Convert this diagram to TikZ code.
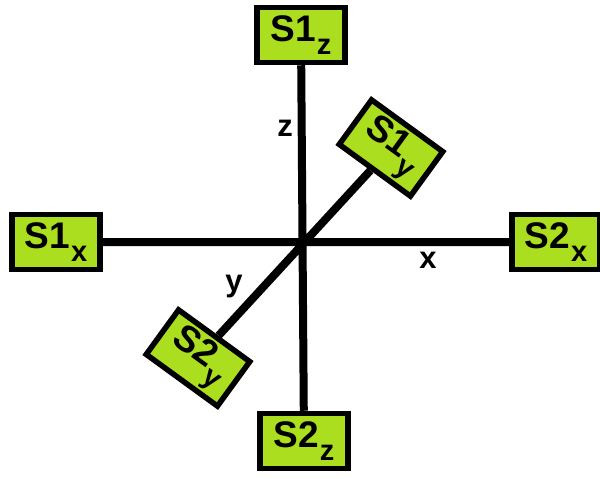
\documentclass[tikz,border=0pt]{standalone}
\usepackage{fontspec}
\usepackage{xcolor}
\setmainfont{Liberation Sans}
\definecolor{boxgreen}{RGB}{170,222,30}
\newcommand{\sname}[2]{#1\kern1pt\raisebox{-0.36em}{\fontsize{29}{29}\selectfont #2}}

\begin{document}
\begin{tikzpicture}[x=1pt,y=-1pt,
    sensor/.style={draw=black,fill=boxgreen,line width=5.5pt,minimum width=88pt,
      minimum height=55pt,inner sep=0pt,font=\fontsize{37}{37}\selectfont\bfseries},
    axislbl/.style={font=\fontsize{31}{31}\selectfont\bfseries}]
  \useasboundingbox (0,0) rectangle (600,479);

  \node[sensor] (s1z) at (301,35) {\sname{S1}{z}};
  \node[sensor] (s2z) at (304,441) {\sname{S2}{z}};
  \node[sensor] (s1x) at (56,242) {\sname{S1}{x}};
  \node[sensor] (s2x) at (556,242) {\sname{S2}{x}};
  \node[sensor,rotate=-36] (s1y) at (391,148) {\sname{S1}{y}};
  \node[sensor,rotate=-36] (s2y) at (198,358) {\sname{S2}{y}};

  \draw[line width=8pt]
    (s1z) -- (s2z)
    (s1x) -- (s2x)
    (s2y) -- (s1y);

  \node[axislbl] (lz) at (285,128) {z};
  \node[axislbl] (lx) at (428,260) {x};
  \node[axislbl] (ly) at (234,287) {y};

\end{tikzpicture}
\end{document}
